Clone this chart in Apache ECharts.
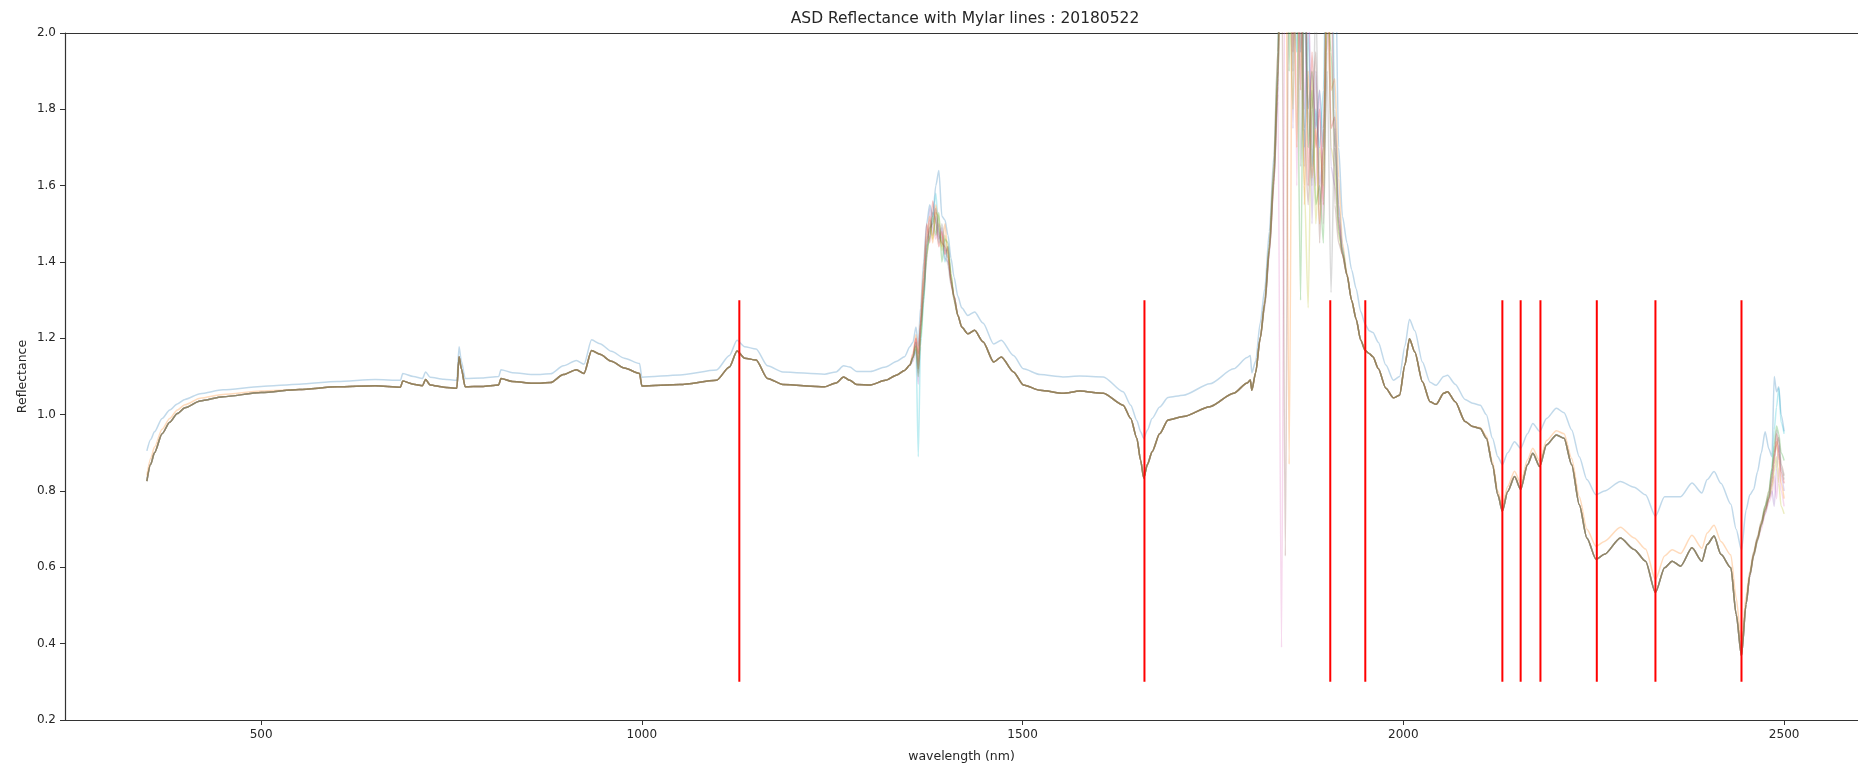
<!DOCTYPE html>
<html>
<head>
<meta charset="utf-8">
<title>ASD Reflectance with Mylar lines</title>
<script src="https://cdn.jsdelivr.net/npm/echarts@6/dist/echarts.min.js"></script>
<style>
  html, body { margin: 0; padding: 0; background: #ffffff; }
  #chart { width: 1858px; height: 768px; }
</style>
</head>
<body>
<div id="chart"></div>
<script>
// ---- Spectral data (wavelength in nm, reflectance) ----

// Smooth part 350-1345 nm, shared by most spectra
const wlA = [350, 355, 360, 370, 380, 390, 400, 420, 450, 500, 550, 600, 650, 683, 686, 700, 712, 716, 722, 740,
  757, 760, 763, 768, 790, 812, 815, 830, 860, 880, 897, 914, 924, 934, 945, 960, 977, 997, 1000, 1050,
  1098, 1115, 1125, 1135, 1150, 1165, 1185, 1240, 1255, 1265, 1273, 1282, 1300, 1320, 1335, 1345];
const reflA = [0.826, 0.870, 0.900, 0.950, 0.980, 1.003, 1.018, 1.036, 1.047, 1.058, 1.066, 1.073, 1.076, 1.072, 1.088, 1.080, 1.076, 1.092, 1.078, 1.072,
  1.069, 1.152, 1.120, 1.073, 1.074, 1.078, 1.095, 1.087, 1.082, 1.084, 1.105, 1.118, 1.108, 1.168, 1.158, 1.140, 1.122, 1.108, 1.075, 1.079,
  1.090, 1.125, 1.167, 1.148, 1.143, 1.095, 1.079, 1.073, 1.083, 1.099, 1.090, 1.079, 1.078, 1.090, 1.104, 1.116];
const blueA = [0.905, 0.935, 0.955, 0.990, 1.012, 1.028, 1.040, 1.055, 1.065, 1.074, 1.080, 1.087, 1.092, 1.090, 1.108, 1.100, 1.095, 1.112, 1.098, 1.093,
  1.090, 1.178, 1.140, 1.095, 1.096, 1.100, 1.118, 1.110, 1.105, 1.107, 1.128, 1.142, 1.132, 1.196, 1.186, 1.166, 1.148, 1.134, 1.098, 1.104,
  1.117, 1.155, 1.195, 1.178, 1.172, 1.128, 1.112, 1.106, 1.112, 1.128, 1.125, 1.113, 1.113, 1.125, 1.140, 1.152];
// orange spectrum over 350-500 nm (rest follows the shared curve)
const orangeStart = [0.840, 0.885, 0.915, 0.962, 0.990, 1.012, 1.026, 1.043, 1.053, 1.062];

// First water band 1352-1420 nm (individual spectra)
const wlB1 = [1352, 1356, 1360, 1363, 1366, 1370, 1374, 1378, 1382, 1386, 1390, 1394, 1398, 1402, 1406, 1410, 1415, 1420];
const blueB1 = [1.178, 1.19, 1.23, 1.18, 1.28, 1.40, 1.50, 1.55, 1.52, 1.60, 1.64, 1.52, 1.51, 1.47, 1.41, 1.36, 1.31, 1.28];
// order: orange, green, red, purple, brown, pink, gray, olive, cyan
const band1 = [
  [1.13, 1.16, 1.21, 1.14, 1.25, 1.38, 1.47, 1.52, 1.45, 1.55, 1.49, 1.44, 1.50, 1.42, 1.35, 1.31, 1.26, 1.23],
  [1.13, 1.15, 1.18, 1.10, 1.20, 1.30, 1.42, 1.47, 1.52, 1.47, 1.53, 1.40, 1.46, 1.45, 1.37, 1.30, 1.26, 1.23],
  [1.13, 1.15, 1.20, 1.16, 1.24, 1.36, 1.50, 1.45, 1.56, 1.50, 1.44, 1.48, 1.42, 1.44, 1.34, 1.31, 1.26, 1.23],
  [1.13, 1.14, 1.17, 1.08, 1.22, 1.33, 1.40, 1.54, 1.47, 1.52, 1.46, 1.49, 1.41, 1.40, 1.36, 1.30, 1.26, 1.23],
  [1.13, 1.15, 1.19, 1.12, 1.23, 1.31, 1.45, 1.49, 1.50, 1.54, 1.47, 1.45, 1.44, 1.41, 1.35, 1.31, 1.26, 1.23],
  [1.13, 1.16, 1.20, 1.13, 1.21, 1.35, 1.43, 1.51, 1.49, 1.46, 1.50, 1.47, 1.43, 1.43, 1.36, 1.30, 1.26, 1.23],
  [1.13, 1.15, 1.19, 1.11, 1.24, 1.32, 1.46, 1.48, 1.53, 1.51, 1.45, 1.50, 1.45, 1.39, 1.34, 1.31, 1.26, 1.23],
  [1.13, 1.15, 1.18, 1.12, 1.20, 1.34, 1.41, 1.50, 1.46, 1.53, 1.52, 1.43, 1.47, 1.42, 1.37, 1.30, 1.26, 1.23],
  [1.13, 1.15, 1.17, 0.89, 1.18, 1.29, 1.44, 1.46, 1.51, 1.58, 1.48, 1.46, 1.40, 1.44, 1.35, 1.31, 1.26, 1.23]
];

// Smooth part 1428-1799 nm
const wlC = [1428, 1437, 1448, 1462, 1472, 1488, 1501, 1523, 1553, 1575, 1606, 1632, 1642, 1650, 1655, 1659, 1664, 1670, 1680, 1691,
  1711, 1746, 1777, 1795, 1799];
const reflC = [1.212, 1.221, 1.191, 1.138, 1.151, 1.112, 1.078, 1.064, 1.056, 1.062, 1.056, 1.025, 0.990, 0.938, 0.880, 0.834, 0.870, 0.903, 0.950, 0.986,
  0.995, 1.021, 1.056, 1.083, 1.091];
const blueC = [1.260, 1.269, 1.240, 1.185, 1.195, 1.155, 1.120, 1.105, 1.099, 1.101, 1.099, 1.060, 1.025, 0.985, 0.955, 0.938, 0.960, 0.990, 1.020, 1.045,
  1.051, 1.081, 1.120, 1.150, 1.155];

// Second water band 1801-1955 nm (individual spectra, values above 2 run off the plot)
const wlB2 = [1801, 1806, 1812, 1818, 1824, 1830, 1835, 1840, 1845, 1850, 1855, 1860, 1865, 1870, 1875, 1880, 1885, 1890, 1895, 1900,
  1905, 1910, 1915, 1920, 1926, 1932, 1938, 1944, 1950, 1955];
const blueB2 = [1.11, 1.14, 1.24, 1.33, 1.48, 1.68, 1.95, 2.50, 2.30, 2.60, 2.20, 2.40, 1.95, 2.10, 1.80, 1.90, 1.75, 1.85, 1.70, 2.30,
  2.50, 2.30, 1.70, 1.52, 1.45, 1.38, 1.33, 1.27, 1.236, 1.22];
const band2 = [
  [1.064, 1.11, 1.20, 1.30, 1.45, 1.66, 1.95, 2.35, 2.50, 0.87, 2.40, 1.70, 2.40, 1.55, 1.90, 1.62, 1.75, 1.50, 1.70, 2.30,
    1.85, 1.88, 1.62, 1.45, 1.37, 1.30, 1.25, 1.195, 1.168, 1.16],
  [1.064, 1.11, 1.20, 1.29, 1.44, 1.63, 1.90, 2.50, 2.80, 1.90, 2.60, 2.10, 1.30, 2.30, 1.70, 1.85, 1.55, 1.60, 1.45, 2.10,
    1.95, 1.70, 1.48, 1.43, 1.365, 1.30, 1.25, 1.195, 1.168, 1.16],
  [1.064, 1.11, 1.20, 1.29, 1.43, 1.60, 1.88, 2.40, 2.20, 2.70, 1.95, 2.30, 1.85, 2.50, 1.60, 1.95, 1.70, 1.80, 1.55, 2.20,
    1.75, 1.78, 1.52, 1.42, 1.365, 1.30, 1.25, 1.195, 1.168, 1.16],
  [1.064, 1.11, 1.20, 1.28, 1.42, 1.61, 1.82, 2.60, 2.10, 2.50, 1.75, 2.40, 2.00, 1.65, 2.20, 1.50, 1.90, 1.60, 1.70, 2.40,
    1.65, 1.60, 1.50, 1.42, 1.365, 1.30, 1.25, 1.195, 1.168, 1.16],
  [1.064, 1.11, 1.20, 1.29, 1.43, 1.62, 1.86, 2.30, 0.63, 2.40, 2.50, 2.00, 2.20, 1.75, 1.55, 1.80, 1.95, 1.45, 1.75, 2.00,
    2.20, 1.55, 1.45, 1.42, 1.365, 1.30, 1.25, 1.195, 1.168, 1.16],
  [1.064, 1.11, 1.20, 1.30, 1.44, 1.64, 1.90, 0.39, 2.40, 2.10, 2.80, 1.60, 2.30, 1.80, 2.10, 1.70, 1.60, 1.85, 1.50, 1.95,
    2.30, 1.70, 1.55, 1.43, 1.365, 1.30, 1.25, 1.195, 1.168, 1.16],
  [1.064, 1.11, 1.20, 1.29, 1.43, 1.61, 1.84, 2.45, 2.10, 2.30, 1.90, 2.60, 1.65, 2.05, 1.80, 1.60, 2.10, 1.55, 1.65, 1.90,
    1.32, 1.75, 1.50, 1.42, 1.365, 1.30, 1.25, 1.195, 1.168, 1.16],
  [1.064, 1.11, 1.20, 1.29, 1.43, 1.62, 1.87, 2.20, 2.70, 2.10, 1.80, 2.40, 2.00, 1.60, 1.28, 1.90, 1.50, 1.70, 1.60, 2.20,
    1.70, 1.65, 1.47, 1.42, 1.365, 1.30, 1.25, 1.195, 1.168, 1.16],
  [1.064, 1.11, 1.20, 1.30, 1.45, 1.65, 1.92, 2.50, 2.30, 2.70, 2.10, 1.95, 2.50, 1.70, 2.00, 1.65, 1.80, 1.70, 1.85, 2.50,
    2.40, 1.80, 1.55, 1.44, 1.365, 1.30, 1.25, 1.195, 1.168, 1.16]
];

// Smooth part 1960-2450 nm
const wlE = [1960, 1967, 1977, 1987, 1995, 2002, 2008, 2015, 2025, 2035, 2043, 2053, 2058, 2068, 2081, 2091, 2101, 2109, 2117, 2124,
  2130, 2137, 2146, 2154, 2163, 2170, 2179, 2188, 2201, 2211, 2221, 2231, 2241, 2253, 2264, 2285, 2303, 2318, 2331, 2343,
  2353, 2364, 2379, 2392, 2399, 2408, 2417, 2430, 2437, 2444, 2450];
const reflE = [1.152, 1.121, 1.069, 1.044, 1.051, 1.130, 1.199, 1.164, 1.086, 1.034, 1.027, 1.056, 1.060, 1.034, 0.982, 0.969, 0.964, 0.938, 0.869, 0.790,
  0.747, 0.799, 0.838, 0.804, 0.869, 0.899, 0.864, 0.921, 0.947, 0.938, 0.869, 0.764, 0.677, 0.621, 0.634, 0.677, 0.647, 0.616, 0.534, 0.599,
  0.616, 0.603, 0.651, 0.616, 0.660, 0.682, 0.634, 0.599, 0.477, 0.368, 0.503];
const blueE = [1.215, 1.190, 1.130, 1.090, 1.100, 1.180, 1.250, 1.220, 1.138, 1.085, 1.077, 1.100, 1.103, 1.080, 1.040, 1.030, 1.025, 1.000, 0.938, 0.890,
  0.869, 0.900, 0.929, 0.912, 0.950, 0.977, 0.956, 0.990, 1.017, 1.005, 0.960, 0.890, 0.830, 0.790, 0.800, 0.825, 0.810, 0.790, 0.734, 0.785,
  0.785, 0.785, 0.821, 0.795, 0.830, 0.851, 0.820, 0.765, 0.700, 0.645, 0.750];
const orangeE = [1.152, 1.121, 1.069, 1.044, 1.051, 1.130, 1.199, 1.164, 1.086, 1.034, 1.027, 1.056, 1.060, 1.034, 0.982, 0.969, 0.966, 0.944, 0.878, 0.800,
  0.762, 0.812, 0.852, 0.820, 0.882, 0.912, 0.878, 0.932, 0.958, 0.950, 0.885, 0.785, 0.700, 0.655, 0.668, 0.705, 0.677, 0.648, 0.568, 0.630,
  0.646, 0.636, 0.684, 0.650, 0.690, 0.710, 0.668, 0.632, 0.520, 0.400, 0.525];

// Long-wave end 2455-2500 nm (individual spectra)
const wlB3 = [2455, 2460, 2465, 2470, 2475, 2480, 2484, 2487, 2490, 2493, 2496, 2500];
const blueB3 = [0.790, 0.804, 0.850, 0.900, 0.955, 0.910, 0.890, 1.100, 1.060, 1.073, 1.000, 0.956];
const band3 = [
  [0.59, 0.64, 0.68, 0.72, 0.76, 0.80, 0.85, 0.90, 0.93, 0.88, 0.82, 0.78],
  [0.58, 0.63, 0.67, 0.71, 0.76, 0.79, 0.86, 0.92, 0.97, 0.95, 0.90, 0.88],
  [0.58, 0.635, 0.675, 0.715, 0.75, 0.78, 0.82, 0.87, 0.95, 0.90, 0.85, 0.82],
  [0.575, 0.63, 0.67, 0.71, 0.74, 0.78, 0.80, 0.76, 0.86, 0.92, 0.84, 0.80],
  [0.58, 0.634, 0.675, 0.712, 0.75, 0.785, 0.84, 0.89, 0.92, 0.94, 0.87, 0.84],
  [0.58, 0.63, 0.67, 0.70, 0.74, 0.77, 0.79, 0.84, 0.78, 0.86, 0.80, 0.76],
  [0.58, 0.634, 0.675, 0.712, 0.75, 0.782, 0.83, 0.90, 0.96, 0.93, 0.86, 0.83],
  [0.58, 0.632, 0.672, 0.71, 0.745, 0.78, 0.81, 0.85, 0.89, 0.82, 0.76, 0.74],
  [0.585, 0.64, 0.68, 0.72, 0.76, 0.80, 0.86, 0.96, 1.02, 1.07, 0.98, 0.95]
];

// Mylar absorption features (nm) and the span of the marker lines
const mylarLines = [1128, 1660, 1904, 1950, 2130, 2154, 2180, 2254, 2331, 2444];
const mylarSpan = [0.3, 1.3];

const xTicks = [500, 1000, 1500, 2000, 2500];

// ---- Build series ----
const pairs = (wl, v) => wl.map((w, i) => [w, v[i]]);
const palette = ['#1f77b4', '#ff7f0e', '#2ca02c', '#d62728', '#9467bd', '#8c564b', '#e377c2', '#7f7f7f', '#bcbd22', '#17becf'];

const spectra = [];
spectra.push([].concat(pairs(wlA, blueA), pairs(wlB1, blueB1), pairs(wlC, blueC),
  pairs(wlB2, blueB2), pairs(wlE, blueE), pairs(wlB3, blueB3)));
for (let k = 0; k < 9; k++) {
  const segA = k === 0
    ? pairs(wlA.slice(0, orangeStart.length), orangeStart).concat(pairs(wlA.slice(orangeStart.length), reflA.slice(orangeStart.length)))
    : pairs(wlA, reflA);
  const segE = k === 0 ? pairs(wlE, orangeE) : pairs(wlE, reflE);
  spectra.push([].concat(segA, pairs(wlB1, band1[k]), pairs(wlC, reflC),
    pairs(wlB2, band2[k]), segE, pairs(wlB3, band3[k])));
}

// drawing order: blue, pink, cyan, purple, orange, red, green, olive, brown, gray
const drawOrder = [0, 6, 9, 4, 1, 3, 2, 8, 5, 7];
const series = drawOrder.map(i => ({
  type: 'line',
  xAxisIndex: 0,
  data: spectra[i],
  showSymbol: false,
  symbol: 'none',
  smooth: 0.25,
  smoothMonotone: 'x',
  clip: true,
  silent: true,
  lineStyle: { color: palette[i], width: 1.5, opacity: 0.28 },
  z: 2
}));

mylarLines.forEach(w => {
  series.push({
    type: 'line',
    xAxisIndex: 0,
    data: [[w, mylarSpan[0]], [w, mylarSpan[1]]],
    showSymbol: false,
    symbol: 'none',
    silent: true,
    lineStyle: { color: '#ff0000', width: 2 },
    z: 3
  });
});

const font = 'DejaVu Sans';
// The axes box runs past the right edge of the page: the plot window ends at 2597 nm here.
const xMin = 242.5, xMax = 2597;
const chart = echarts.init(document.getElementById('chart'), null, { renderer: 'canvas' });
chart.setOption({
  animation: false,
  backgroundColor: '#ffffff',
  grid: { left: 65, top: 33, right: 0, height: 689.5, show: false },
  graphic: [{
    type: 'text',
    x: 965, y: 19,
    style: {
      text: 'ASD Reflectance with Mylar lines : 20180522',
      fontFamily: font, fontSize: 15.5, fill: '#262626',
      textAlign: 'center', textVerticalAlign: 'middle'
    }
  }],
  xAxis: [{
    type: 'value',
    min: xMin, max: xMax,
    name: 'wavelength (nm)',
    nameLocation: 'middle',
    nameGap: 30,
    nameTextStyle: { fontFamily: font, fontSize: 12.5, color: '#262626' },
    axisLine: { show: true, onZero: false, lineStyle: { color: '#333333', width: 1.2 } },
    axisTick: { show: true, inside: false, length: 5, customValues: xTicks, lineStyle: { color: '#333333' } },
    axisLabel: { customValues: xTicks, margin: 9, fontFamily: font, fontSize: 12, color: '#262626',
      formatter: v => String(Math.round(v)) },
    splitLine: { show: false }
  }, {
    // top spine
    type: 'value',
    position: 'top',
    min: xMin, max: xMax,
    axisLine: { show: true, onZero: false, lineStyle: { color: '#333333', width: 1.2 } },
    axisTick: { show: false },
    axisLabel: { show: false },
    splitLine: { show: false }
  }],
  yAxis: {
    type: 'value',
    min: 0.2, max: 2.0, interval: 0.2,
    name: 'Reflectance',
    nameLocation: 'middle',
    nameGap: 36,
    nameMoveOverlap: false,
    nameTextStyle: { fontFamily: font, fontSize: 12.5, color: '#262626' },
    axisLine: { show: true, onZero: false, lineStyle: { color: '#333333', width: 1.2 } },
    axisTick: { show: true, inside: false, length: 5, lineStyle: { color: '#333333' } },
    axisLabel: { margin: 9, fontFamily: font, fontSize: 12, color: '#262626',
      formatter: v => v.toFixed(1) },
    splitLine: { show: false }
  },
  series: series
});
</script>
</body>
</html>
